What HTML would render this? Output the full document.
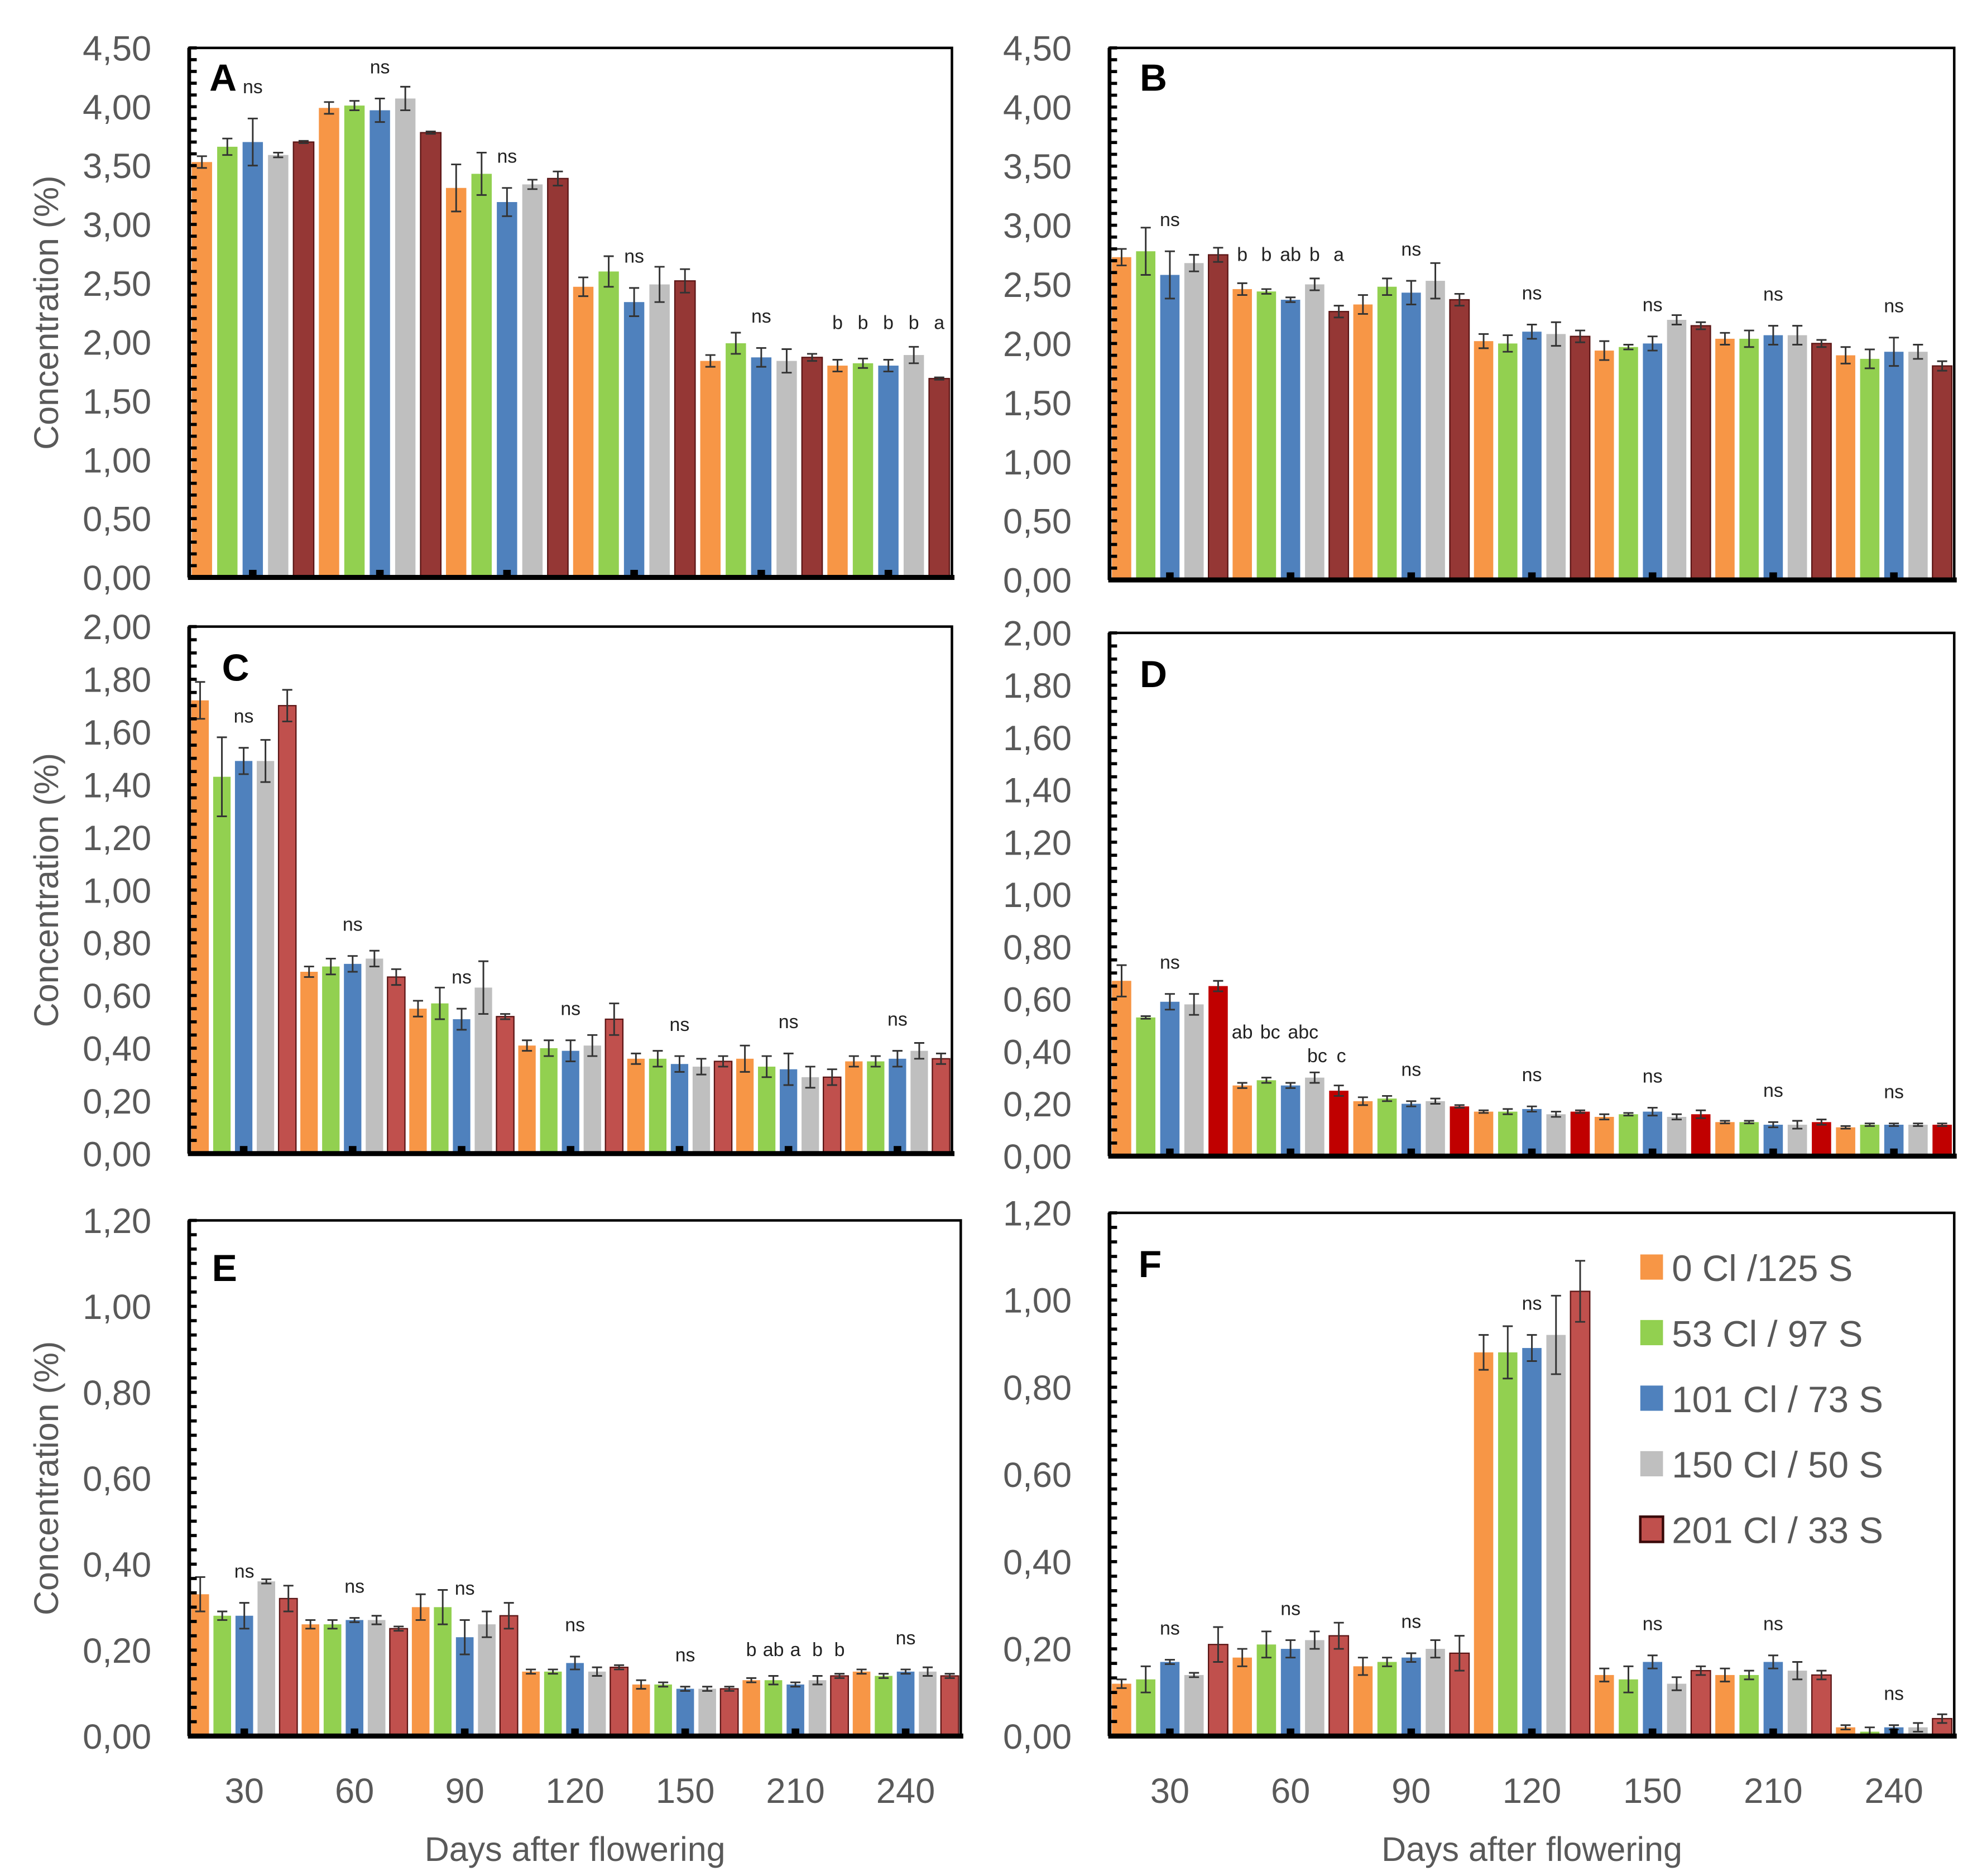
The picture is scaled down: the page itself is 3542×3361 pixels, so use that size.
<!DOCTYPE html>
<html><head><meta charset="utf-8"><style>
html,body{margin:0;padding:0;background:#fff;}
svg{display:block;}
text{font-family:"Liberation Sans",sans-serif;}
</style></head><body>
<svg id="chart" width="3542" height="3361" viewBox="0 0 1568 1488" xmlns="http://www.w3.org/2000/svg">
<rect x="0" y="0" width="1568" height="1488" fill="#fff"/>
</svg>
<script>
const categories = ["30","60","90","120","150","210","240"];
const seriesNames = ["0 Cl /125 S","53 Cl / 97 S","101 Cl / 73 S","150 Cl / 50 S","201 Cl / 33 S"];
const A_vals = [[3.53,3.66,3.70,3.59,3.70],[3.99,4.01,3.97,4.07,3.78],[3.31,3.43,3.19,3.34,3.39],[2.47,2.60,2.34,2.49,2.52],[1.84,1.99,1.87,1.84,1.87],[1.80,1.82,1.80,1.89,1.69]];
const A_err = [[.05,.07,.2,.02,.01],[.05,.04,.1,.1,.01],[.2,.18,.12,.04,.06],[.08,.13,.12,.15,.1],[.05,.09,.08,.1,.03],[.05,.04,.05,.07,.01]];
const A_ann = ["ns","ns","ns","ns","ns",["b","b","b","b","a"]];
const B_vals = [[2.73,2.78,2.58,2.68,2.75],[2.46,2.44,2.37,2.50,2.27],[2.33,2.48,2.43,2.53,2.37],[2.02,2.00,2.10,2.08,2.06],[1.94,1.97,2.00,2.20,2.15],[2.04,2.04,2.07,2.07,2.00],[1.90,1.87,1.93,1.93,1.81]];
const B_err = [[.07,.2,.2,.07,.06],[.05,.02,.02,.05,.05],[.08,.07,.1,.15,.05],[.06,.07,.06,.1,.05],[.08,.02,.06,.04,.03],[.05,.07,.08,.08,.03],[.07,.08,.12,.06,.04]];
const B_ann = ["ns",["b","b","ab","b","a"],"ns","ns","ns","ns","ns"];
const C_vals = [[1.72,1.43,1.49,1.49,1.70],[0.69,0.71,0.72,0.74,0.67],[0.55,0.57,0.51,0.63,0.52],[0.41,0.40,0.39,0.41,0.51],[0.36,0.36,0.34,0.33,0.35],[0.36,0.33,0.32,0.29,0.29],[0.35,0.35,0.36,0.39,0.36]];
const C_err = [[.07,.15,.05,.08,.06],[.02,.03,.03,.03,.03],[.03,.06,.04,.1,.01],[.02,.03,.04,.04,.06],[.02,.03,.03,.03,.02],[.05,.04,.06,.04,.03],[.02,.02,.03,.03,.02]];
const C_ann = ["ns","ns","ns","ns","ns","ns","ns"];
const D_vals = [[0.67,0.53,0.59,0.58,0.65],[0.27,0.29,0.27,0.30,0.25],[0.21,0.22,0.20,0.21,0.19],[0.17,0.17,0.18,0.16,0.17],[0.15,0.16,0.17,0.15,0.16],[0.13,0.13,0.12,0.12,0.13],[0.11,0.12,0.12,0.12,0.12]];
const D_err = [[.06,.005,.03,.04,.02],[.01,.01,.01,.02,.02],[.015,.01,.01,.01,.005],[.005,.01,.01,.01,.005],[.01,.005,.015,.01,.015],[.005,.005,.01,.015,.01],[.005,.005,.005,.005,.005]];
const D_ann = ["ns",["ab","bc","abc","bc","c"],"ns","ns","ns","ns","ns"];
const E_vals = [[0.33,0.28,0.28,0.36,0.32],[0.26,0.26,0.27,0.27,0.25],[0.30,0.30,0.23,0.26,0.28],[0.15,0.15,0.17,0.15,0.16],[0.12,0.12,0.11,0.11,0.11],[0.13,0.13,0.12,0.13,0.14],[0.15,0.14,0.15,0.15,0.14]];
const E_err = [[.04,.01,.03,.005,.03],[.01,.01,.005,.01,.005],[.03,.04,.04,.03,.03],[.005,.005,.015,.01,.005],[.01,.005,.005,.005,.005],[.005,.01,.005,.01,.005],[.005,.005,.005,.01,.005]];
const E_ann = ["ns","ns","ns","ns","ns",["b","ab","a","b","b"],"ns"];
const F_vals = [[0.12,0.13,0.17,0.14,0.21],[0.18,0.21,0.20,0.22,0.23],[0.16,0.17,0.18,0.20,0.19],[0.88,0.88,0.89,0.92,1.02],[0.14,0.13,0.17,0.12,0.15],[0.14,0.14,0.17,0.15,0.14],[0.02,0.01,0.02,0.02,0.04]];
const F_err = [[.01,.03,.005,.005,.04],[.02,.03,.02,.02,.03],[.02,.01,.01,.02,.04],[.04,.06,.03,.09,.07],[.015,.03,.015,.015,.01],[.015,.01,.015,.02,.01],[.005,.01,.005,.01,.01]];
const F_ann = ["ns","ns","ns","ns","ns","ns","ns"];
const yTicksA = ["0,00","0,50","1,00","1,50","2,00","2,50","3,00","3,50","4,00","4,50"];
const yTicksC = ["0,00","0,20","0,40","0,60","0,80","1,00","1,20","1,40","1,60","1,80","2,00"];
const yTicksE = ["0,00","0,20","0,40","0,60","0,80","1,00","1,20"];

const NS="http://www.w3.org/2000/svg";
const svg=document.getElementById('chart');
function mk(tag,attrs,parent){const e=document.createElementNS(NS,tag);for(const k in attrs)e.setAttribute(k,attrs[k]);(parent||svg).appendChild(e);return e;}
function tx(str,attrs,parent){const e=mk('text',attrs,parent);e.textContent=str;return e;}

function panel(cfg){
  const g=mk('g',{});
  
  
  const L=cfg.L,R=cfg.R,T=cfg.T,B=cfg.B;
  const ymax=parseFloat(cfg.ticks[cfg.ticks.length-1].replace(',','.'));
  const y=v=>B-(v/ymax)*(B-T);
  const n=cfg.vals.length;
  const gw=(R-L)/n, slot=gw/5, bw=slot*0.8;
  const colors=cfg.colors;
  const fr=mk('rect',{x:L,y:T,width:R-L,height:B-T,fill:'none',stroke:'#000','stroke-width':2},g);
  
  
  cfg.vals.forEach((grp,gi)=>{
    grp.forEach((v,si)=>{
      const x=L+gi*gw+si*slot+(slot-bw)/2;
      const r=mk('rect',{x:x,y:y(v),width:bw,height:B-y(v),fill:colors[si]},g);
      
      
      if(cfg.outline&&si===4){r.setAttribute('stroke','#5a1515');r.setAttribute('stroke-width','1');}
      const e=cfg.err[gi][si], cx=x+bw/2;
      const eg=mk('g',{stroke:'#333','stroke-width':1.3},g);
      
      
      mk('line',{x1:cx,x2:cx,y1:y(v+e),y2:y(v-e)},eg);
      mk('line',{x1:cx-4,x2:cx+4,y1:y(v+e),y2:y(v+e)},eg);
      mk('line',{x1:cx-4,x2:cx+4,y1:y(v-e),y2:y(v-e)},eg);
    });
    const ann=cfg.ann[gi];
    const top=Math.max(...grp.map((v,i)=>v+cfg.err[gi][i]));
    if(typeof ann==='string'){
      const mid=grp[2]+cfg.err[gi][2];
      const t=tx(ann,{x:L+gi*gw+gw*0.5,y:y(mid)-20,'font-size':15,'text-anchor':'middle',fill:'#222'},g);
      
      
    } else {
      const dOff=[0,3,10,2,2];
      ann.forEach((a,si)=>{
        let yy=y(top)-14, xx=L+gi*gw+(si+0.5)*slot;
        if(cfg.id==='D'){ yy = si<3 ? y(top)-27 : y(top)-8; xx+=dOff[si]; }
        const t=tx(a,{x:xx,y:yy,'font-size':15,'text-anchor':'middle',fill:'#222'},g);
        
        
      });
    }
    mk('rect',{x:L+gi*gw+gw/2-3,y:B-6,width:6,height:6,fill:'#000'},g);
  });
  mk('line',{x1:L,x2:L,y1:T,y2:B,stroke:'#000','stroke-width':3},g);
  const nm=(cfg.ticks.length-1)*cfg.minor;
  for(let i=0;i<=nm;i++){const yy=B-(B-T)*i/nm;mk('line',{x1:L,x2:L+6,y1:yy,y2:yy,stroke:'#000','stroke-width':2.5},g);}
  mk('line',{x1:L-1,x2:R+2,y1:B,y2:B,stroke:'#000','stroke-width':4},g);
  cfg.ticks.forEach((t,i)=>{
    const lab=tx(t,{x:L-30,y:B-(B-T)*i/(cfg.ticks.length-1)+10,'font-size':28,'text-anchor':'end',fill:'#595959'},g);
    
    
  });
  const pl=tx(cfg.id,{x:cfg.lx,y:cfg.ly,'font-size':30,'font-weight':'bold',fill:'#000'},g);
  
  
  if(cfg.ytitle){
    const yt=tx('Concentration (%)',{x:0,y:0,'font-size':27,'text-anchor':'middle',fill:'#595959',transform:'translate(46,'+((T+B)/2)+') rotate(-90)'},g);
    
    
  }
  if(cfg.xlabels){
    categories.forEach((c,gi)=>{
      const t=tx(c,{x:L+gi*gw+gw/2,y:1430,'font-size':28,'text-anchor':'middle',fill:'#595959'},g);
      
      
    });
    const xt=tx('Days after flowering',{x:(L+R)/2,y:1476,'font-size':27,'text-anchor':'middle',fill:'#595959'},g);
    
    
  }
}
const base=['#f79646','#92d050','#4f81bd','#bfbfbf'];
panel({id:'A',L:150,R:755,T:38,B:458,vals:A_vals,err:A_err,ann:A_ann,ticks:yTicksA,minor:5,colors:base.concat(['#953735']),lx:166,ly:72,ytitle:true,outline:true});
panel({id:'B',L:880,R:1550,T:38,B:460,vals:B_vals,err:B_err,ann:B_ann,ticks:yTicksA,minor:5,colors:base.concat(['#953735']),lx:904,ly:72,outline:true});
panel({id:'C',L:150,R:755,T:497,B:915,vals:C_vals,err:C_err,ann:C_ann,ticks:yTicksC,minor:4,colors:base.concat(['#c0504d']),lx:176,ly:540,ytitle:true,outline:true});
panel({id:'D',L:880,R:1550,T:502,B:917,vals:D_vals,err:D_err,ann:D_ann,ticks:yTicksC,minor:4,colors:base.concat(['#c00000']),lx:904,ly:545});
panel({id:'E',L:150,R:762,T:968,B:1377,vals:E_vals,err:E_err,ann:E_ann,ticks:yTicksE,minor:6,colors:base.concat(['#c0504d']),lx:168,ly:1016,ytitle:true,xlabels:true,outline:true});
panel({id:'F',L:880,R:1550,T:962,B:1377,vals:F_vals,err:F_err,ann:F_ann,ticks:yTicksE,minor:6,colors:base.concat(['#c0504d']),lx:903,ly:1013,xlabels:true,outline:true});
const lg=mk('g',{});


const lc=base.concat(['#c0504d']);
seriesNames.forEach((s,i)=>{
  const yy=1005+i*52;
  const r=mk('rect',{x:1301,y:yy-10,width:18,height:20,fill:lc[i]},lg);
  if(i===4){r.setAttribute('stroke','#3a0a0a');r.setAttribute('stroke-width','2');}
  
  
  const t=tx(s,{x:1326,y:yy+11,'font-size':29,fill:'#595959'},lg);
  
  
});
</script>
</body></html>
